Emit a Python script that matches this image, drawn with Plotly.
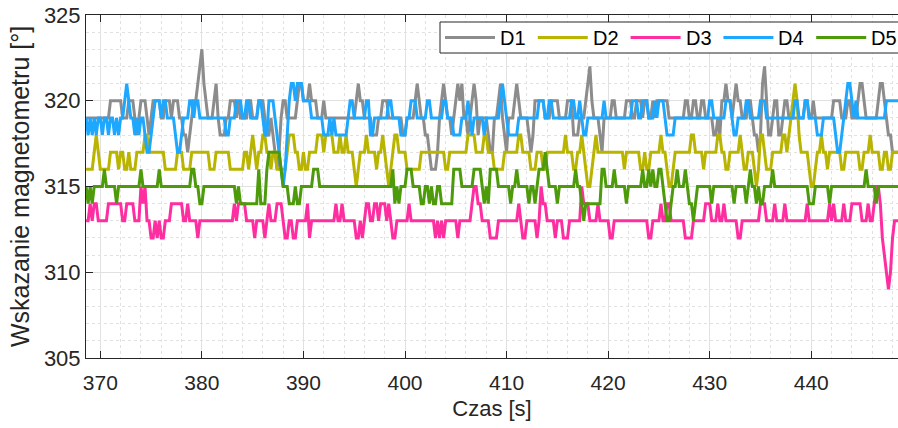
import numpy as np
import plotly.graph_objects as go

# Magnetometer readings (degrees) for five devices, stored as change points:
# each *_t entry is the time [s] at which the reading switches to the matching *_v level.
SAMPLE_DT = 0.2
T_START, T_END = 368.6, 448.6

d1_t = [368.6, 371.0, 372.2, 372.8, 373.4, 373.6, 373.8, 374.0, 374.6, 374.8, 375.0, 375.2, 376.0, 376.4,
        377.0, 377.2, 377.8, 378.2, 378.6, 378.8, 379.0, 379.2, 379.6, 379.8, 380.0, 380.2, 380.4, 380.6,
        381.2, 381.4, 381.6, 381.8, 382.4, 382.8, 383.4, 383.6, 383.8, 384.6, 385.0, 385.6, 386.2, 386.4,
        386.8, 387.0, 387.2, 387.4, 387.6, 387.8, 388.0, 388.4, 389.4, 389.6, 390.0, 390.6, 390.8, 391.4,
        392.0, 392.2, 395.2, 395.4, 395.6, 396.0, 396.8, 397.4, 397.8, 398.4, 399.8, 400.2, 401.0, 401.2,
        401.4, 401.6, 402.0, 402.4, 402.6, 403.2, 403.4, 403.6, 403.8, 404.0, 404.2, 404.6, 404.8, 405.0,
        405.2, 405.4, 405.6, 405.8, 406.2, 406.4, 406.6, 406.8, 407.0, 407.2, 407.4, 408.2, 408.4, 408.8,
        409.2, 409.4, 409.6, 409.8, 410.0, 410.2, 410.8, 411.0, 411.2, 411.4, 412.2, 412.4, 412.6, 412.8,
        413.8, 414.4, 415.2, 416.0, 416.6, 417.2, 417.8, 418.0, 418.2, 418.4, 418.6, 419.2, 419.4, 419.6,
        420.4, 420.8, 421.8, 422.4, 422.8, 423.4, 423.6, 424.0, 424.4, 424.6, 424.8, 426.0, 427.6, 428.0,
        428.4, 428.8, 429.2, 429.6, 430.4, 430.8, 431.0, 431.2, 431.6, 431.8, 432.2, 432.4, 432.6, 432.8,
        433.2, 433.8, 434.2, 434.4, 434.8, 435.0, 435.2, 435.4, 435.6, 435.8, 436.2, 436.4, 436.8, 437.2,
        437.4, 437.8, 439.4, 439.8, 440.2, 440.4, 442.2, 443.0, 443.6, 444.0, 444.6, 444.8, 445.2, 445.4,
        446.6, 446.8, 447.2, 447.4, 447.6, 448.0]
d1_v = [319, 320, 319, 320, 319, 318, 319, 320, 319, 318, 319, 320, 319, 320,
        319, 320, 319, 318, 317, 318, 319, 320, 321, 322, 323, 321, 320, 319,
        320, 321, 319, 318, 319, 320, 319, 320, 319, 320, 319, 320, 319, 318,
        319, 318, 317, 316, 317, 319, 320, 319, 320, 321, 320, 321, 320, 319,
        320, 319, 320, 321, 320, 319, 318, 319, 320, 319, 318, 319, 320, 321,
        320, 319, 318, 317, 316, 317, 319, 320, 321, 320, 319, 318, 319, 320,
        321, 320, 321, 319, 318, 319, 320, 321, 320, 318, 319, 318, 317, 319,
        320, 321, 319, 318, 317, 319, 320, 321, 320, 319, 318, 317, 318, 320,
        319, 320, 319, 320, 318, 319, 320, 321, 322, 320, 319, 318, 317, 319,
        320, 319, 320, 319, 320, 319, 320, 319, 320, 319, 320, 319, 320, 319,
        320, 319, 320, 319, 318, 319, 318, 320, 321, 320, 319, 320, 321, 320,
        319, 320, 319, 318, 317, 318, 321, 322, 320, 318, 319, 320, 318, 319,
        320, 319, 320, 319, 320, 319, 320, 319, 320, 319, 320, 321, 320, 319,
        320, 321, 320, 319, 318, 317]

d2_t = [368.6, 369.4, 369.6, 369.8, 370.0, 371.0, 371.8, 372.0, 372.4, 372.8, 373.0, 373.6, 374.4, 374.8,
        376.4, 377.6, 378.2, 379.0, 380.8, 381.4, 382.8, 384.2, 384.6, 384.8, 385.0, 385.2, 385.4, 385.6,
        386.0, 386.4, 386.8, 387.0, 387.4, 388.4, 388.6, 389.2, 389.6, 390.0, 390.2, 390.6, 391.4, 392.0,
        392.2, 393.0, 393.6, 393.8, 394.2, 394.4, 395.0, 395.2, 395.4, 395.6, 396.2, 396.4, 397.2, 397.4,
        397.8, 398.0, 398.2, 398.4, 398.6, 398.8, 399.0, 399.4, 400.2, 401.6, 404.0, 404.4, 406.2, 407.0,
        407.8, 408.2, 408.8, 409.8, 411.2, 411.6, 412.4, 413.0, 413.6, 414.0, 415.8, 416.0, 416.6, 417.0,
        417.4, 417.6, 417.8, 418.0, 418.4, 418.6, 418.8, 419.0, 421.6, 421.8, 423.2, 423.6, 423.8, 424.2,
        425.2, 425.4, 425.8, 426.0, 426.4, 426.6, 428.2, 428.6, 429.4, 429.6, 430.8, 431.2, 431.6, 432.0,
        433.0, 433.2, 433.4, 433.8, 434.4, 434.6, 434.8, 435.0, 435.4, 435.6, 436.2, 437.2, 437.6, 437.8,
        438.0, 438.2, 438.4, 438.6, 438.8, 439.0, 439.8, 440.0, 440.4, 440.6, 441.0, 441.2, 441.6, 441.8,
        443.0, 443.4, 444.8, 445.2, 445.8, 446.0, 446.8, 447.2, 447.6, 448.0]
d2_v = [316, 317, 318, 317, 316, 317, 316, 317, 316, 317, 316, 317, 318, 317,
        316, 317, 316, 317, 316, 317, 316, 317, 316, 317, 318, 317, 316, 317,
        318, 317, 316, 317, 316, 317, 318, 317, 316, 317, 316, 317, 318, 317,
        318, 317, 318, 317, 318, 317, 316, 315, 316, 317, 318, 317, 316, 317,
        318, 317, 316, 315, 316, 317, 318, 317, 316, 317, 316, 317, 318, 317,
        318, 317, 316, 317, 318, 317, 316, 317, 316, 317, 318, 317, 316, 317,
        318, 317, 316, 315, 316, 317, 318, 317, 316, 317, 316, 317, 316, 317,
        318, 317, 316, 315, 316, 317, 318, 317, 316, 317, 318, 317, 316, 317,
        318, 317, 316, 317, 316, 315, 316, 318, 317, 316, 317, 318, 317, 318,
        319, 320, 321, 320, 318, 317, 316, 315, 316, 317, 318, 317, 316, 317,
        316, 317, 316, 317, 318, 317, 316, 317, 316, 317]

d3_t = [368.6, 369.0, 369.2, 369.4, 369.8, 370.8, 372.2, 372.6, 373.4, 374.0, 374.2, 374.4, 374.6, 375.0,
        375.4, 375.6, 375.8, 376.0, 376.4, 377.0, 378.2, 378.6, 378.8, 379.6, 379.8, 383.2, 383.4, 383.6,
        384.4, 385.2, 385.4, 386.2, 386.4, 386.6, 386.8, 387.4, 388.0, 388.2, 388.6, 389.0, 389.4, 390.4,
        390.6, 390.8, 393.2, 393.4, 393.8, 394.0, 395.2, 395.6, 395.8, 396.0, 396.2, 396.6, 397.0, 397.4,
        397.6, 398.2, 398.4, 398.6, 398.8, 399.2, 400.4, 400.6, 403.0, 403.2, 403.4, 403.6, 403.8, 404.0,
        405.2, 405.4, 406.6, 406.8, 407.2, 407.6, 408.4, 409.2, 411.2, 411.4, 411.6, 412.0, 413.0, 413.2,
        413.4, 413.6, 414.0, 414.8, 415.0, 415.6, 416.2, 417.4, 417.6, 418.2, 419.0, 419.2, 420.2, 420.6,
        424.0, 424.4, 425.2, 425.4, 425.8, 426.2, 427.6, 428.4, 429.6, 430.2, 430.8, 431.0, 431.4, 431.6,
        432.8, 433.2, 435.0, 435.6, 436.4, 436.6, 437.4, 437.6, 439.6, 439.8, 441.8, 442.0, 442.2, 442.4,
        443.2, 443.4, 444.0, 445.0, 445.6, 445.8, 446.2, 446.4, 446.8, 447.0, 447.2, 447.4, 447.6, 447.8,
        448.0, 448.2]
d3_v = [313, 314, 313, 314, 313, 314, 313, 314, 313, 315, 314, 315, 313, 312,
        313, 312, 313, 312, 313, 314, 313, 314, 313, 312, 313, 314, 313, 314,
        313, 312, 313, 312, 313, 314, 313, 314, 313, 312, 313, 312, 313, 314,
        312, 313, 314, 313, 314, 313, 312, 313, 312, 313, 314, 313, 314, 313,
        314, 313, 314, 313, 312, 313, 314, 313, 312, 313, 312, 313, 312, 313,
        312, 313, 314, 315, 314, 313, 312, 313, 314, 313, 312, 313, 312, 313,
        315, 314, 313, 312, 313, 312, 313, 315, 314, 313, 314, 313, 312, 313,
        312, 313, 314, 313, 314, 313, 312, 313, 314, 313, 314, 313, 314, 313,
        312, 313, 314, 313, 314, 313, 314, 313, 314, 313, 314, 313, 314, 313,
        314, 313, 314, 313, 314, 313, 314, 315, 314, 312, 311, 310, 309, 310,
        312, 313]

d4_t = [368.6, 368.8, 369.0, 369.2, 369.4, 369.6, 369.8, 370.2, 370.4, 370.8, 371.0, 371.4, 371.6, 371.8,
        372.0, 372.4, 372.6, 372.8, 373.0, 373.4, 373.6, 373.8, 374.0, 374.4, 374.6, 375.0, 375.2, 375.4,
        376.0, 376.2, 376.6, 377.4, 377.6, 378.0, 378.2, 378.8, 379.2, 379.4, 379.8, 382.4, 382.8, 383.4,
        384.0, 384.4, 384.8, 385.6, 386.0, 386.2, 386.6, 387.2, 387.4, 387.6, 387.8, 388.0, 388.2, 388.4,
        388.6, 388.8, 389.2, 389.4, 390.0, 390.8, 392.0, 392.6, 392.8, 393.0, 393.2, 394.4, 394.6, 395.0,
        396.2, 396.6, 397.0, 398.4, 398.8, 399.6, 400.2, 400.6, 401.2, 402.2, 402.6, 403.8, 404.2, 404.8,
        405.6, 406.2, 406.4, 406.6, 406.8, 407.8, 408.0, 409.4, 409.6, 409.8, 410.0, 410.2, 411.2, 413.2,
        413.8, 414.2, 414.6, 416.4, 416.8, 417.2, 417.4, 417.6, 418.0, 419.6, 419.8, 422.4, 423.0, 423.4,
        424.0, 424.6, 424.8, 425.0, 425.6, 425.8, 426.6, 430.0, 430.4, 431.6, 432.2, 432.4, 432.8, 433.6,
        434.0, 435.0, 435.6, 438.4, 438.8, 439.4, 439.8, 440.6, 441.2, 442.4, 442.6, 443.0, 443.2, 443.4,
        443.6, 444.0, 444.2, 444.4, 444.6, 447.4]
d4_v = [319, 318, 319, 318, 319, 318, 319, 318, 319, 318, 319, 318, 319, 318,
        319, 320, 321, 320, 319, 318, 319, 318, 319, 318, 317, 318, 319, 320,
        319, 320, 319, 318, 317, 318, 319, 320, 319, 320, 319, 318, 319, 320,
        319, 320, 319, 320, 319, 318, 320, 319, 318, 317, 316, 315, 316, 318,
        320, 321, 320, 321, 320, 319, 318, 319, 318, 319, 318, 319, 320, 319,
        320, 318, 319, 320, 319, 318, 319, 320, 319, 320, 319, 320, 319, 318,
        319, 320, 319, 318, 319, 318, 319, 320, 321, 320, 319, 318, 319, 320,
        319, 320, 319, 320, 319, 320, 319, 318, 319, 320, 319, 320, 319, 320,
        319, 320, 319, 320, 319, 318, 319, 320, 319, 320, 319, 318, 319, 320,
        319, 320, 319, 320, 319, 320, 319, 318, 319, 318, 317, 318, 319, 320,
        321, 320, 319, 320, 319, 320]

d5_t = [368.6, 368.8, 369.0, 369.2, 369.4, 370.4, 370.6, 371.6, 371.8, 374.0, 374.2, 375.8, 376.0, 379.0,
        379.4, 379.8, 380.2, 383.4, 383.6, 383.8, 385.6, 385.8, 386.4, 386.6, 387.8, 388.0, 388.6, 389.2,
        389.4, 389.8, 391.0, 391.6, 398.8, 399.0, 399.2, 399.4, 399.6, 400.2, 400.8, 401.6, 402.0, 402.4,
        402.6, 402.8, 403.2, 403.6, 404.8, 405.6, 406.8, 407.6, 407.8, 408.0, 408.2, 408.4, 409.2, 410.4,
        410.6, 411.0, 411.2, 412.2, 412.4, 412.8, 413.0, 413.2, 413.8, 414.0, 414.2, 415.0, 415.2, 416.8,
        417.0, 417.4, 417.6, 417.8, 419.4, 419.8, 420.6, 420.8, 421.8, 422.0, 423.4, 423.6, 424.0, 424.2,
        424.4, 424.6, 425.0, 425.4, 425.6, 425.8, 426.2, 426.4, 426.8, 427.0, 427.6, 427.8, 428.0, 428.4,
        428.6, 428.8, 430.2, 430.4, 432.4, 432.6, 433.6, 433.8, 434.0, 434.2, 434.6, 434.8, 435.0, 435.4,
        436.2, 436.4, 439.8, 440.4, 441.8, 442.0, 445.4, 445.6, 446.4, 446.6]
d5_v = [315, 314, 315, 314, 315, 316, 315, 314, 315, 316, 315, 316, 315, 316,
        315, 314, 315, 314, 315, 314, 316, 314, 316, 317, 316, 315, 314, 315,
        314, 315, 316, 315, 316, 314, 315, 314, 315, 316, 315, 314, 315, 314,
        315, 314, 315, 314, 316, 315, 316, 315, 314, 315, 314, 316, 315, 314,
        315, 316, 315, 314, 315, 314, 315, 316, 317, 316, 315, 314, 315, 316,
        315, 314, 313, 314, 316, 315, 316, 315, 314, 315, 316, 315, 316, 315,
        316, 315, 316, 315, 314, 313, 314, 315, 316, 315, 316, 315, 314, 313,
        314, 315, 314, 315, 314, 315, 314, 315, 316, 315, 314, 315, 314, 315,
        316, 315, 314, 315, 314, 315, 316, 315, 314, 315]

series_names = ["D1", "D2", "D3", "D4", "D5"]
series_t = [d1_t, d2_t, d3_t, d4_t, d5_t]
series_v = [d1_v, d2_v, d3_v, d4_v, d5_v]
series_colors = ["#8c8c8c", "#b8b400", "#ff2ea0", "#1ea7ff", "#4d9a0a"]

sample_t = np.round(np.arange(T_START, T_END + 1e-9, SAMPLE_DT), 2)


def resample(change_t, change_v):
    """Hold each level from its change time until the next one."""
    idx = np.searchsorted(np.asarray(change_t), sample_t + 1e-6, side="right") - 1
    return np.asarray(change_v)[np.clip(idx, 0, None)]


FONT = "Liberation Sans, Arial, Helvetica, sans-serif"
TXT = "#262626"

W, H = 898, 428
M_L, M_R, M_T, M_B = 86, 0, 15, 70
PLOT_W, PLOT_H = W - M_L - M_R, H - M_T - M_B


def px_x(x):
    return (x - M_L) / PLOT_W


def px_y(y):
    return 1 - (y - M_T) / PLOT_H


fig = go.Figure()
for name, ct, cv, color in zip(series_names, series_t, series_v, series_colors):
    fig.add_trace(go.Scatter(
        x=sample_t, y=resample(ct, cv), mode="lines", name=name,
        line=dict(color=color, width=3), showlegend=False,
    ))

# Legend box drawn as a framed strip across the top-right of the axes
LEG_LEFT, LEG_TOP, LEG_BOTTOM = 440, 22, 53
LEG_PITCH = 92.8
LEG_LINE = 50
shapes = [dict(type="rect", xref="paper", yref="paper",
               x0=px_x(LEG_LEFT), x1=px_x(W + 10), y0=px_y(LEG_BOTTOM), y1=px_y(LEG_TOP),
               line=dict(color=TXT, width=1), fillcolor="white", layer="above")]
annotations = []
ymid = px_y((LEG_TOP + LEG_BOTTOM) / 2)
for i, (name, color) in enumerate(zip(series_names, series_colors)):
    x0 = LEG_LEFT + 5 + i * LEG_PITCH
    shapes.append(dict(type="line", xref="paper", yref="paper",
                       x0=px_x(x0), x1=px_x(x0 + LEG_LINE), y0=ymid, y1=ymid,
                       line=dict(color=color, width=3), layer="above"))
    annotations.append(dict(text=name, xref="paper", yref="paper",
                            x=px_x(x0 + LEG_LINE + 3), y=ymid, xanchor="left", yanchor="middle",
                            showarrow=False, font=dict(family=FONT, size=20, color="#000000")))

axis_common = dict(
    showline=True, linecolor=TXT, linewidth=1,
    ticks="inside", ticklen=7, tickcolor=TXT, tickwidth=1,
    showgrid=True, gridcolor="#e1e1e1", gridwidth=1,
    zeroline=False,
)

fig.update_layout(
    width=W, height=H,
    margin=dict(l=M_L, r=M_R, t=M_T, b=M_B, autoexpand=False),
    paper_bgcolor="white", plot_bgcolor="white",
    font=dict(family=FONT, size=20, color=TXT),
    xaxis=dict(
        range=[368.59, 448.54], tickmode="array",
        tickvals=[370, 380, 390, 400, 410, 420, 430, 440],
        tickfont=dict(family=FONT, size=21, color=TXT), ticklabelstandoff=6,
        minor=dict(dtick=2, tick0=370, showgrid=True, gridcolor="#e1e1e1", griddash="dot", gridwidth=1),
        mirror="ticks",
        title=dict(text="Czas [s]", font=dict(family=FONT, size=22, color=TXT), standoff=7),
        **axis_common,
    ),
    yaxis=dict(
        range=[305, 325], tickmode="array", tickvals=[305, 310, 315, 320, 325],
        tickfont=dict(family=FONT, size=22, color=TXT),
        minor=dict(dtick=1, tick0=305, showgrid=True, gridcolor="#e1e1e1", griddash="dot", gridwidth=1),
        title=dict(text="Wskazanie magnetometru [°]", font=dict(family=FONT, size=25, color=TXT), standoff=7),
        **axis_common,
    ),
    shapes=shapes,
    annotations=annotations,
    showlegend=False,
)

fig.write_html("out.html")
